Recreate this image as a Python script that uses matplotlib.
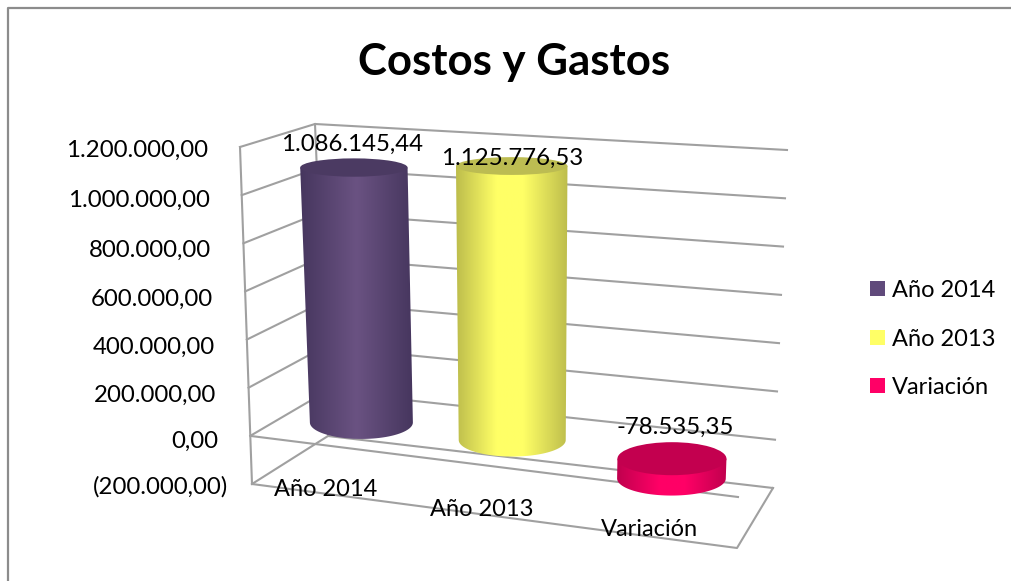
import numpy as np
import matplotlib
matplotlib.use('Agg')
import matplotlib.pyplot as plt
from matplotlib.colors import LinearSegmentedColormap
from matplotlib.patches import Ellipse, PathPatch, Rectangle
from matplotlib.path import Path

plt.rcParams['font.family'] = ['Lato', 'DejaVu Sans']

# datos
categorias = ['Año 2014', 'Año 2013', 'Variación']
valores = [1086145.44, 1125776.53, -78535.35]
etiquetas = ['1.086.145,44', '1.125.776,53', '-78.535,35']
niveles = [1200000, 1000000, 800000, 600000, 400000, 200000, 0, -200000]
niveles_txt = ['1.200.000,00', '1.000.000,00', '800.000,00', '600.000,00',
               '400.000,00', '200.000,00', '0,00', '(200.000,00)']

# colores: lado claro, lado oscuro, tapa
lado_claro = ['#6a5282', '#ffff66', '#ff0066']
lado_oscuro = ['#46365e', '#bdbd4c', '#c0004e']
tapa = ['#4b3a62', '#bcbc52', '#c3004f']
leyenda = ['#604a7b', '#ffff66', '#ff0066']
gris = '#a0a0a0'


# caja 3D en pixeles, cada esquina es lineal con el valor
def esquina(arriba, abajo, v):
    t = (1200000 - v) / 1400000
    return arriba[0] + (abajo[0] - arriba[0]) * t, arriba[1] + (abajo[1] - arriba[1]) * t


def frente_izq(v):
    return esquina((240, 147), (252, 484), v)


def fondo_izq(v):
    return esquina((315, 124), (328, 436), v)


def fondo_der(v):
    return esquina((787, 150), (773, 488), v)


# centro de un cilindro a la altura del valor v
def cilindro(u, v):
    base_x = 289 + (756 - 289) * u
    base_y = 414 + (468.5 - 414) * u
    escala = (230.5 + 27 * u) / 1e6
    inclina = (-10 + 20 * u) / 1e6
    return base_x + inclina * v, base_y - escala * v


def alto_elipse(v):
    return 33 - 13.5 * v / 1e6


fig = plt.figure(figsize=(10.11, 5.81), dpi=100)
ax = fig.add_axes([0, 0, 1, 1])
ax.set_xlim(0, 1011)
ax.set_ylim(581, 0)
ax.axis('off')

# borde del grafico (solo arriba e izquierda)
ax.plot([8, 8, 1011], [581, 8, 8], color='#8c8c8c', lw=1.6, zorder=1)

ax.text(514.5, 62, 'Costos y Gastos', ha='center', va='center', fontsize=31.5, fontweight='bold', color='black')

# paredes y rejilla
marca_y = [150, 200, 250, 299, 347, 395, 441, 487]
for v, txt, y in zip(niveles, niveles_txt, marca_y):
    a = frente_izq(v)
    b = fondo_izq(v)
    c = fondo_der(v)
    ax.plot([a[0], b[0], c[0]], [a[1], b[1], c[1]], color=gris, lw=1.5, zorder=2)
    ax.text(a[0] - 32 + (v < 0) * 8, y, txt, ha='right', va='center', fontsize=17.3, color='black', zorder=6)
ax.plot(*zip(frente_izq(1200000), frente_izq(-200000)), color=gris, lw=1.5, zorder=2)
ax.plot(*zip(fondo_izq(1200000), fondo_izq(-200000)), color=gris, lw=1.5, zorder=2)

# suelo: borde frontal, lateral derecho y linea del cero
ax.plot([252, 737, 773], [484, 548, 488], color=gris, lw=1.5, zorder=2)
ax.plot([251, 738], [436, 497], color=gris, lw=1.5, zorder=2)

# cilindros
pos = [0.155, 0.478, 0.82]
anchos = [103, 107, 109]
brillo = [(0.5, 0.5), (0.36, 0.6), (0.38, 0.62)]
for i in range(3):
    v = valores[i]
    x0, y0 = cilindro(pos[i], 0)
    x1, y1 = cilindro(pos[i], v)
    w0 = anchos[i]
    w1 = anchos[i] + 4 * v / 1e6
    h0 = alto_elipse(0)
    h1 = alto_elipse(v)

    # la tapa es siempre el extremo de arriba
    if v >= 0:
        xt, yt, wt, ht, xb, yb, wb, hb = x1, y1, w1, h1, x0, y0, w0, h0
    else:
        xt, yt, wt, ht, xb, yb, wb, hb = x0, y0, w0, h0, x1, y1, w1, h1

    theta = np.linspace(np.pi, 0, 60)
    borde_x = xb + wb / 2 * np.cos(theta)
    borde_y = yb + hb / 2 * np.sin(theta)
    verts = [(xt - wt / 2, yt)] + list(zip(borde_x, borde_y)) + [(xt + wt / 2, yt), (xt - wt / 2, yt)]
    codes = [Path.MOVETO] + [Path.LINETO] * (len(verts) - 2) + [Path.CLOSEPOLY]
    lado = PathPatch(Path(verts, codes), fc='none', ec='none', zorder=3)
    ax.add_patch(lado)

    cmap = LinearSegmentedColormap.from_list('lado', [(0, lado_oscuro[i]), (brillo[i][0], lado_claro[i]),
                                                      (brillo[i][1], lado_claro[i]), (1, lado_oscuro[i])])
    grad = np.linspace(0, 1, 256).reshape(1, -1)
    xmin = min(xt - wt / 2, xb - wb / 2)
    xmax = max(xt + wt / 2, xb + wb / 2)
    im = ax.imshow(grad, cmap=cmap, extent=[xmin, xmax, yb + hb / 2 + 1, yt - 1], aspect='auto', zorder=3)
    im.set_clip_path(lado)

    ax.add_patch(Ellipse((xt, yt), wt, ht, fc=tapa[i], ec='none', zorder=4))

ax.set_xlim(0, 1011)
ax.set_ylim(581, 0)

# valores sobre cada cilindro
etq_pos = [(352.5, 144), (512, 158), (675, 427)]
for (x, y), txt in zip(etq_pos, etiquetas):
    ax.text(x, y, txt, ha='center', va='center', fontsize=17.3, color='black', zorder=7)

# nombres de categoria
cat_pos = [(326, 490), (482, 509), (649, 530)]
for (x, y), txt in zip(cat_pos, categorias):
    ax.text(x, y, txt, ha='center', va='center', fontsize=17, color='black', zorder=7)

# leyenda
ley_y = [288.5, 337.5, 385.5]
for y, col, txt in zip(ley_y, leyenda, categorias):
    ax.add_patch(Rectangle((870, y - 7.5), 15, 15, fc=col, ec='none', zorder=5))
    ax.text(892, y + 2, txt, ha='left', va='center', fontsize=17, color='black', zorder=7)

fig.savefig('out.png', dpi=100)
